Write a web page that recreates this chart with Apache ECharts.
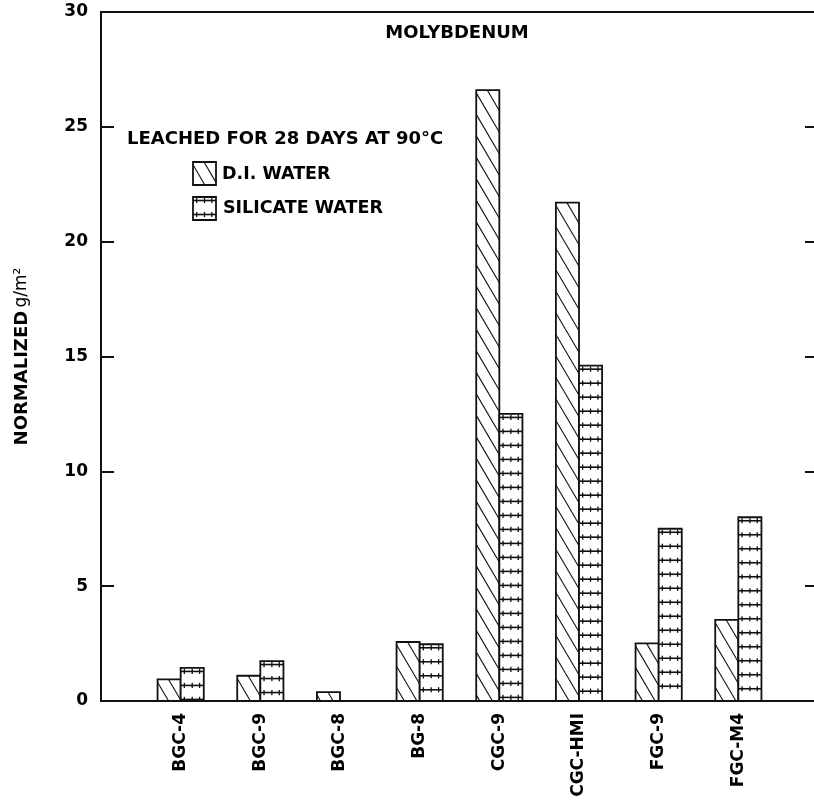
<!DOCTYPE html>
<html>
<head>
<meta charset="utf-8">
<script src="https://cdn.jsdelivr.net/npm/echarts@6/dist/echarts.min.js"></script>
<style>
  html, body { margin: 0; padding: 0; background: #fff; }
  #chart { width: 814px; height: 807px; }
</style>
</head>
<body>
<div id="chart"></div>
<script>
// Glass compositions, leached for 28 days at 90 °C
const categories = ['BGC-4', 'BGC-9', 'BGC-8', 'BG-8', 'CGC-9', 'CGC-HMI', 'FGC-9', 'FGC-M4'];
// Normalized molybdenum release, g/m²
const diWater = [0.94, 1.10, 0.39, 2.57, 26.6, 21.7, 2.51, 3.53];
const silicateWater = [1.44, 1.74, 0, 2.47, 12.5, 14.6, 7.5, 8.0];
// Value axis
const yMin = 0, yMax = 30, yStep = 5;

const INK = '#111';
const FONT = '"DejaVu Sans", "Liberation Sans", sans-serif';
const BAR_FRAC = 0.29;   // bar width as a share of one category step

// Bar with back-slash hatching (D.I. water)
function hatchedBox(x0, y0, w, h) {
  const slope = 1.7, gap = 21.5, x1 = x0 + w, y1 = y0 + h;
  const els = [{ type: 'rect', shape: { x: x0, y: y0, width: w, height: h }, style: { fill: '#fff', stroke: null } }];
  let c = y0 - slope * 11;
  while (c + slope * w > y0) c -= gap;
  for (; c < y1; c += gap) {
    let xa = x0, ya = c, xb = x1, yb = c + slope * w;
    if (ya < y0) { xa = x0 + (y0 - c) / slope; ya = y0; }
    if (yb > y1) { xb = x0 + (y1 - c) / slope; yb = y1; }
    if (xb - xa < 0.5) continue;
    els.push({ type: 'line', shape: { x1: xa, y1: ya, x2: xb, y2: yb }, style: { stroke: INK, lineWidth: 1.1 } });
  }
  els.push({ type: 'rect', shape: { x: x0, y: y0, width: w, height: h }, style: { fill: null, stroke: INK, lineWidth: 1.8 } });
  return els;
}

// Bar with ruled, cross-ticked lines (silicate water)
function railBox(x0, y0, w, h) {
  const x1 = x0 + w, y1 = y0 + h;
  const els = [{ type: 'rect', shape: { x: x0, y: y0, width: w, height: h }, style: { fill: '#fff', stroke: null } }];
  for (let y = y0 + 3.5; y < y1 - 1.5; y += 14) {
    els.push({ type: 'line', shape: { x1: x0, y1: y, x2: x1, y2: y }, style: { stroke: INK, lineWidth: 1.6 } });
    [0.16, 0.5, 0.82].forEach(function (f) {
      const tx = x0 + f * w;
      els.push({ type: 'line', shape: { x1: tx, y1: Math.max(y0, y - 2.6), x2: tx, y2: Math.min(y1, y + 2.6) }, style: { stroke: INK, lineWidth: 1.3 } });
    });
  }
  els.push({ type: 'rect', shape: { x: x0, y: y0, width: w, height: h }, style: { fill: null, stroke: INK, lineWidth: 1.8 } });
  return els;
}

function barRenderer(side, painter) {
  return function (params, api) {
    const v = api.value(1);
    if (!v) return null;
    const base = api.coord([api.value(0), 0]);
    const top = api.coord([api.value(0), v]);
    const bw = api.size([1, 0])[0] * BAR_FRAC;
    const x0 = side < 0 ? base[0] - bw : base[0];
    return { type: 'group', children: painter(x0, top[1], bw, base[1] - top[1]) };
  };
}

const axisCategories = [''].concat(categories, ['']);

const chart = echarts.init(document.getElementById('chart'), null, { renderer: 'canvas' });
chart.setOption({
  animation: false,
  backgroundColor: '#fff',
  // the frame runs a little past the right edge of the page
  grid: {
    left: 101, width: 717, top: 12, height: 689,
    outerBoundsMode: 'none', containLabel: false,
    show: true, borderColor: INK, borderWidth: 2, backgroundColor: 'transparent'
  },
  xAxis: {
    type: 'category',
    data: axisCategories,
    boundaryGap: false,
    axisLine: { lineStyle: { color: INK, width: 2 } },
    axisTick: { show: false },
    axisLabel: { rotate: 90, margin: 12, color: '#000', fontFamily: FONT, fontWeight: 'bold', fontSize: 17, interval: 0 },
    splitLine: { show: false }
  },
  yAxis: [
    {
      type: 'value', min: yMin, max: yMax, interval: yStep,
      name: '{b|NORMALIZED} {r|g/m²}',
      nameLocation: 'middle', nameGap: 70,
      nameTextStyle: {
        rich: {
          b: { fontFamily: FONT, fontWeight: 'bold', fontSize: 18, color: '#000' },
          r: { fontFamily: FONT, fontSize: 17, color: '#000' }
        }
      },
      axisLine: { show: true, lineStyle: { color: INK, width: 2 } },
      axisTick: { show: true, inside: true, length: 13, lineStyle: { color: INK, width: 2 } },
      axisLabel: { margin: 13, color: '#000', fontFamily: FONT, fontWeight: 'bold', fontSize: 17 },
      splitLine: { show: false }
    },
    {
      type: 'value', min: yMin, max: yMax, interval: yStep, position: 'right',
      axisLine: { show: false },
      axisTick: { show: true, inside: true, length: 13, lineStyle: { color: INK, width: 2 } },
      axisLabel: { show: false },
      splitLine: { show: false }
    }
  ],
  series: [
    {
      name: 'D.I. WATER', type: 'custom',
      data: categories.map(function (c, i) { return [c, diWater[i]]; }),
      encode: { x: 0, y: 1 },
      renderItem: barRenderer(-1, hatchedBox)
    },
    {
      name: 'SILICATE WATER', type: 'custom',
      data: categories.map(function (c, i) { return [c, silicateWater[i]]; }),
      encode: { x: 0, y: 1 },
      renderItem: barRenderer(1, railBox)
    }
  ],
  graphic: [
    { type: 'text', x: 457, y: 33, style: { text: 'MOLYBDENUM', fontFamily: FONT, fontWeight: 'bold', fontSize: 18, fill: '#000', align: 'center', verticalAlign: 'middle' } },
    { type: 'text', x: 127, y: 139, style: { text: 'LEACHED FOR 28 DAYS AT 90°C', fontFamily: FONT, fontWeight: 'bold', fontSize: 18, fill: '#000', align: 'left', verticalAlign: 'middle' } },
    { type: 'group', children: hatchedBox(193, 162, 23, 23) },
    { type: 'text', x: 222, y: 174, style: { text: 'D.I. WATER', fontFamily: FONT, fontWeight: 'bold', fontSize: 17.5, fill: '#000', align: 'left', verticalAlign: 'middle' } },
    { type: 'group', children: railBox(193, 197, 23, 23) },
    { type: 'text', x: 223, y: 208, style: { text: 'SILICATE WATER', fontFamily: FONT, fontWeight: 'bold', fontSize: 17.5, fill: '#000', align: 'left', verticalAlign: 'middle' } }
  ]
});
</script>
</body>
</html>
